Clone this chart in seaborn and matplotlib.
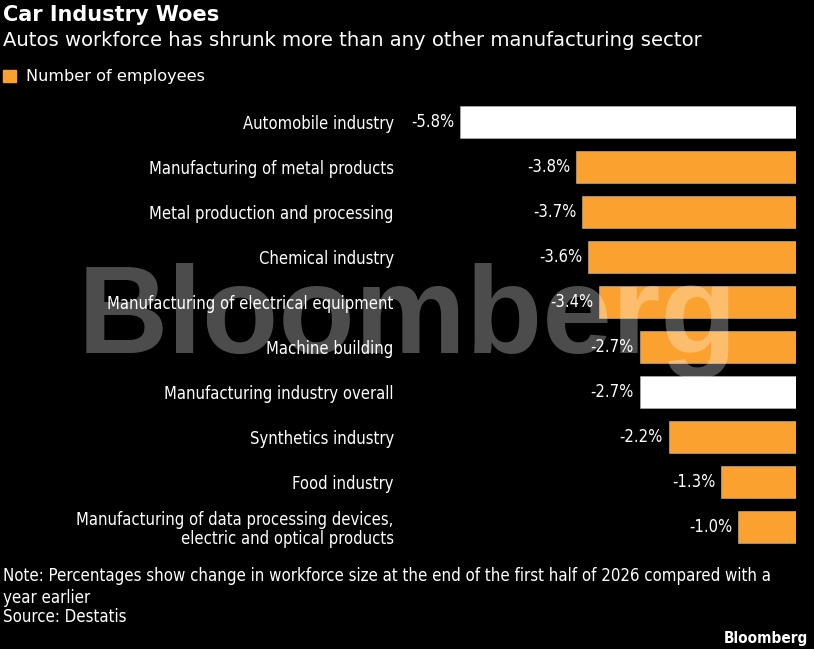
import matplotlib
matplotlib.use('Agg')
import matplotlib.pyplot as plt
import seaborn as sns
import pandas as pd

# data
categories = [
    'Automobile industry',
    'Manufacturing of metal products',
    'Metal production and processing',
    'Chemical industry',
    'Manufacturing of electrical equipment',
    'Machine building',
    'Manufacturing industry overall',
    'Synthetics industry',
    'Food industry',
    'Manufacturing of data processing devices,\nelectric and optical products',
]
change_pct = [-5.8, -3.8, -3.7, -3.6, -3.4, -2.7, -2.7, -2.2, -1.3, -1.0]
highlight = [True, False, False, False, False, False, True, False, False, False]

ORANGE = '#FBA12F'
WHITE = '#FFFFFF'
BG = '#000000'

sns.set_style('dark')
plt.rcParams['font.family'] = ['DejaVu Sans']
plt.rcParams['font.stretch'] = 'condensed'

df = pd.DataFrame({'cat': categories, 'val': change_pct,
                   'grp': ['hi' if h else 'lo' for h in highlight]})

fig = plt.figure(figsize=(8.14, 6.49), dpi=100, facecolor=BG)
ax = fig.add_axes([400 / 814, 1 - 549.5 / 649, 396 / 814, 450 / 649])
ax.set_facecolor(BG)

sns.barplot(data=df, x='val', y='cat', hue='grp', orient='h', dodge=False,
            palette={'hi': WHITE, 'lo': ORANGE}, saturation=1, width=0.7, legend=False,
            edgecolor='#BBBBBB', linewidth=0.4, ax=ax)

ax.set_xlim(-396 / 57.9, 0)
ax.set_xlabel('')
ax.set_ylabel('')
ax.set_xticks([])
ax.tick_params(axis='y', length=0, pad=4.5, labelcolor='white', labelsize=11.9)
for lbl in ax.get_yticklabels():
    lbl.set_horizontalalignment('right')
    lbl.set_multialignment('right')
    lbl.set_linespacing(1.05)
for s in ax.spines.values():
    s.set_visible(False)
ax.grid(False)
ax.yaxis.set_zorder(5)

for i, v in enumerate(change_pct):
    ax.annotate(f'{v:.1f}%', xy=(v, i), xytext=(-4, 0), textcoords='offset points',
                ha='right', va='center', color='white', fontsize=11.9, zorder=6)

# watermark: above the bars, below the labels
ax.text(0.5 * (85 + 730) / 814, 1 - 321 / 649, 'Bloomberg', transform=fig.transFigure,
        ha='center', va='center', fontsize=90, fontweight='bold', family='Liberation Sans',
        stretch='normal', color='white', alpha=0.3, zorder=3, clip_on=False)

# header
fig.text(3 / 814, 1 - 15 / 649, 'Car Industry Woes', ha='left', va='center',
         fontsize=15, fontweight='bold', stretch='normal', color='white')
fig.text(3 / 814, 1 - 41 / 649,
         'Autos workforce has shrunk more than any other manufacturing sector',
         ha='left', va='center', fontsize=14.1, stretch='normal', color='white')

# legend
leg = ax.legend(handles=[plt.Rectangle((0, 0), 1, 1, color=ORANGE)],
                labels=['Number of employees'], loc='center left',
                bbox_to_anchor=(3 / 814, 1 - 76 / 649), bbox_transform=fig.transFigure,
                frameon=False, handlelength=0.95, handleheight=0.95, handletextpad=0.7,
                borderaxespad=0, borderpad=0)
for t in leg.get_texts():
    t.set_color('white')
    t.set_fontsize(11.6)
    t.set_stretch('normal')

# footer
fig.text(3 / 814, 1 - 587 / 649,
         'Note: Percentages show change in workforce size at the end of the first half of 2026 compared with a\nyear earlier',
         ha='left', va='center', fontsize=12.1, color='white', linespacing=1.35)
fig.text(3 / 814, 1 - 617 / 649, 'Source: Destatis', ha='left', va='center',
         fontsize=12.1, color='white')
fig.text(808 / 814, 1 - 638 / 649, 'Bloomberg', ha='right', va='center',
         fontsize=11, fontweight='bold', color='white')

fig.savefig('out.png', dpi=100, facecolor=BG)
